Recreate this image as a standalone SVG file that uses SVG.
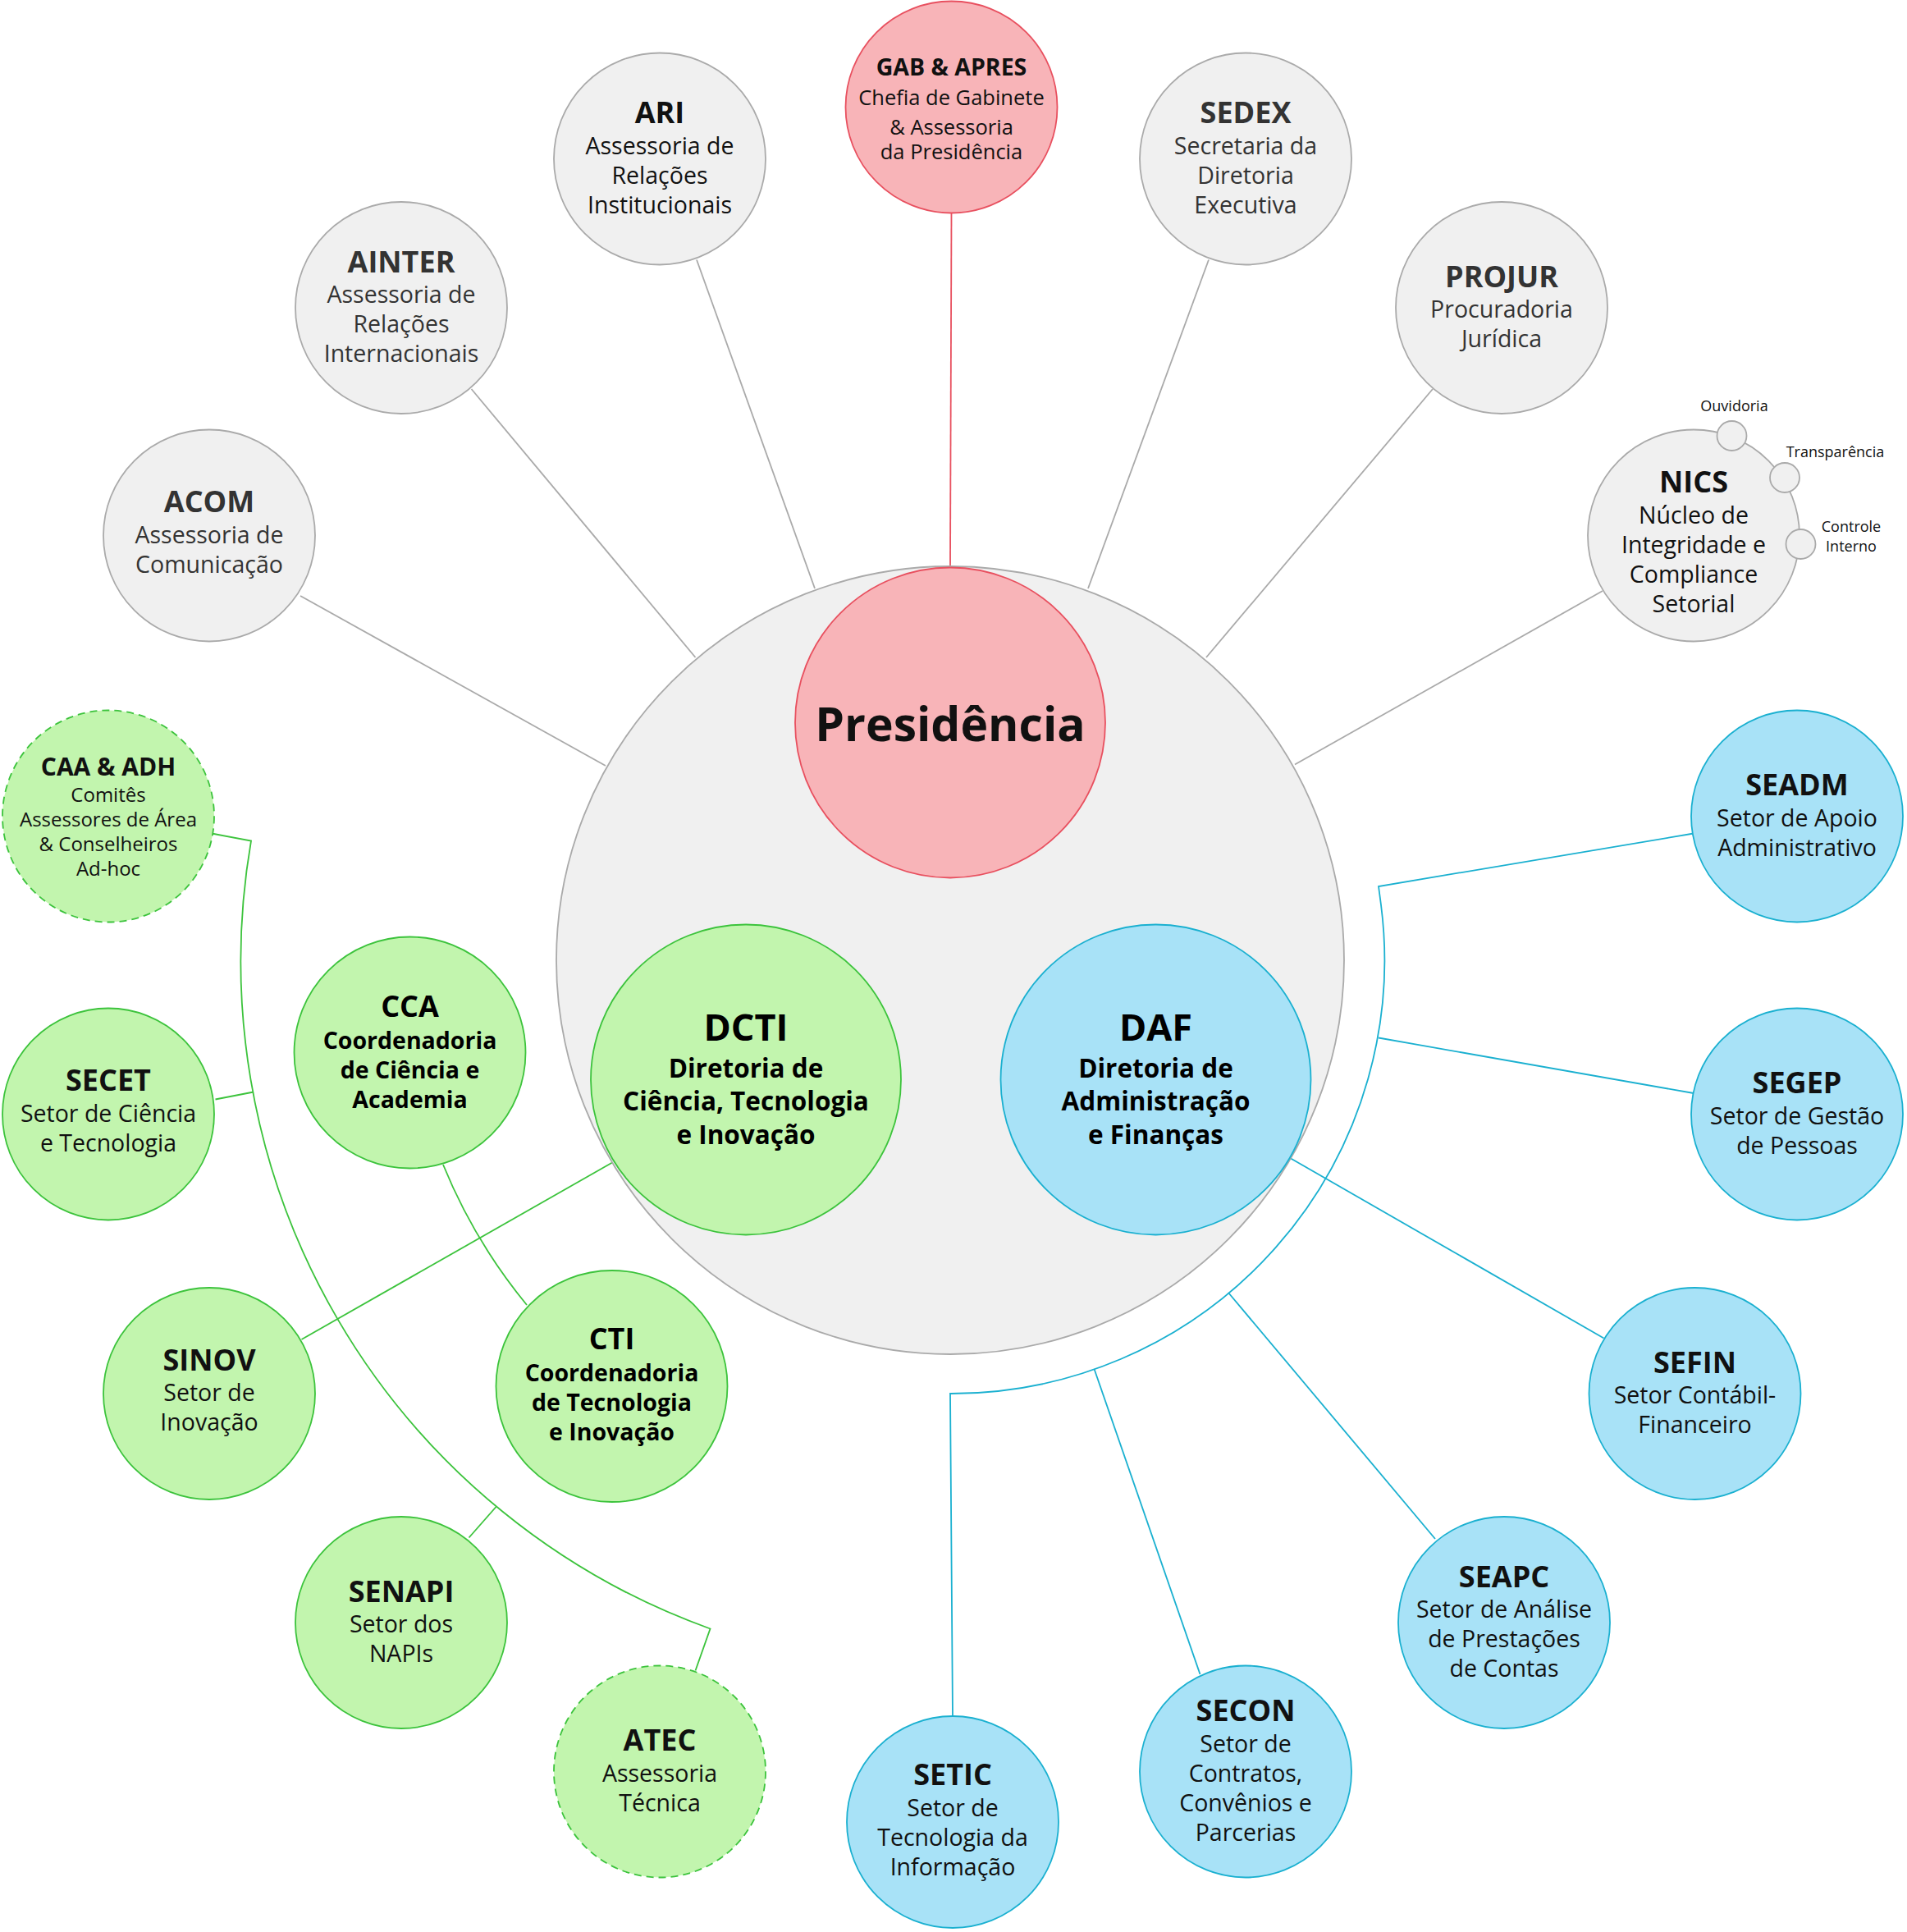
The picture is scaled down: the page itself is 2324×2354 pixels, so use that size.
<svg xmlns="http://www.w3.org/2000/svg" width="2324" height="2354" viewBox="0 0 2324 2354">
<style>
text{font-family:"Open Sans","Liberation Sans",sans-serif;text-anchor:middle;fill:#333}
.t{font-weight:bold;font-size:24px}
.b{font-size:19px}
.bb{font-size:19px;font-weight:bold;fill:#000}
.gray{fill:#f0f0f0;stroke:#aaa;stroke-width:1.2}
.green{fill:#c2f5ae;stroke:#3cc33c;stroke-width:1.2}
.blue{fill:#a8e2f7;stroke:#1ab0d0;stroke-width:1.2}
.red{fill:#f8b4b8;stroke:#e8505f;stroke-width:1.2}
.dash{stroke-dasharray:6 4}
.lg{stroke:#aaa;fill:none;stroke-width:1.2}
.lgr{stroke:#3cc33c;fill:none;stroke-width:1.2}
.lb{stroke:#1ab0d0;fill:none;stroke-width:1.2}
.lr{stroke:#e8505f;fill:none;stroke-width:1.2}
</style>
<rect width="2324" height="2354" fill="#fff"/>
<g transform="scale(1.5)">
<g id="connectors">
<line class="lr" x1="773" y1="173" x2="772" y2="460"/>
<line class="lg" x1="566" y1="211" x2="662" y2="478"/>
<line class="lg" x1="982" y1="211" x2="884" y2="478"/>
<line class="lg" x1="383" y1="316" x2="565" y2="534"/>
<line class="lg" x1="1164" y1="316" x2="980" y2="534"/>
<line class="lg" x1="244" y1="484" x2="492" y2="622"/>
<line class="lg" x1="1302" y1="480" x2="1052" y2="621"/>
<path class="lb" d="M1376,677 L1120,720 L1122,735 A352 352 0 0 1 772,1132 L774,1395"/>
<line class="lb" x1="1120" y1="843" x2="1376" y2="888"/>
<line class="lb" x1="1047" y1="940" x2="1303" y2="1087"/>
<line class="lb" x1="998" y1="1050" x2="1166" y2="1250"/>
<line class="lb" x1="889" y1="1112" x2="975" y2="1360"/>
<path class="lgr" d="M172,677 L204,683 A576 576 0 0 0 577,1323 L565,1357"/>
<line class="lgr" x1="175" y1="893" x2="206" y2="887"/>
<line class="lgr" x1="245" y1="1088" x2="498" y2="944"/>
<path class="lgr" d="M360,946 A444 444 0 0 0 428,1060"/>
<line class="lgr" x1="381" y1="1249" x2="403" y2="1224"/>
</g>
<g id="main"><circle class="gray" cx="772" cy="780" r="320"/></g>
<g id="pres"><circle class="red" cx="772" cy="587" r="126"/><text x="772" y="602" style="font-weight:bold;font-size:38px;fill:#111">Presidência</text></g>
<g id="dcti"><circle class="green" cx="606" cy="877" r="126"/><text class="t" x="606" y="845" style="font-size:30px;fill:#000">DCTI</text><text class="bb" x="606" y="875" style="font-size:21px">Diretoria de</text><text class="bb" x="606" y="902" style="font-size:21px">Ciência, Tecnologia</text><text class="bb" x="606" y="929" style="font-size:21px">e Inovação</text></g>
<g id="daf"><circle class="blue" cx="939" cy="877" r="126"/><text class="t" x="939" y="845" style="font-size:30px;fill:#000">DAF</text><text class="bb" x="939" y="875" style="font-size:21px">Diretoria de</text><text class="bb" x="939" y="902" style="font-size:21px">Administração</text><text class="bb" x="939" y="929" style="font-size:21px">e Finanças</text></g>
<g id="gab"><circle class="red" cx="773" cy="87" r="86"/><text x="773" y="61" style="font-weight:bold;font-size:19px;fill:#111">GAB &amp; APRES</text><text class="b" x="773" y="85" style="font-size:17px;fill:#111">Chefia de Gabinete</text><text class="b" x="773" y="109" style="font-size:17px;fill:#111">&amp; Assessoria</text><text class="b" x="773" y="129" style="font-size:17px;fill:#111">da Presidência</text></g>
<g id="ari"><circle class="gray" cx="536" cy="129" r="86"/><text class="t" x="536" y="100" style="fill:#111">ARI</text><text class="b" x="536" y="125" style="fill:#111">Assessoria de</text><text class="b" x="536" y="149" style="fill:#111">Relações</text><text class="b" x="536" y="173" style="fill:#111">Institucionais</text></g>
<g id="sedex"><circle class="gray" cx="1012" cy="129" r="86"/><text class="t" x="1012" y="100">SEDEX</text><text class="b" x="1012" y="125">Secretaria da</text><text class="b" x="1012" y="149">Diretoria</text><text class="b" x="1012" y="173">Executiva</text></g>
<g id="ainter"><circle class="gray" cx="326" cy="250" r="86"/><text class="t" x="326" y="221">AINTER</text><text class="b" x="326" y="246">Assessoria de</text><text class="b" x="326" y="270">Relações</text><text class="b" x="326" y="294">Internacionais</text></g>
<g id="projur"><circle class="gray" cx="1220" cy="250" r="86"/><text class="t" x="1220" y="233">PROJUR</text><text class="b" x="1220" y="258">Procuradoria</text><text class="b" x="1220" y="282">Jurídica</text></g>
<g id="acom"><circle class="gray" cx="170" cy="435" r="86"/><text class="t" x="170" y="416">ACOM</text><text class="b" x="170" y="441">Assessoria de</text><text class="b" x="170" y="465">Comunicação</text></g>
<g id="nics"><circle class="gray" cx="1376" cy="435" r="86"/><text class="t" x="1376" y="400" style="fill:#111">NICS</text><text class="b" x="1376" y="425" style="fill:#111">Núcleo de</text><text class="b" x="1376" y="449" style="fill:#111">Integridade e</text><text class="b" x="1376" y="473" style="fill:#111">Compliance</text><text class="b" x="1376" y="497" style="fill:#111">Setorial</text></g>
<g id="ouvidoria"><circle class="gray" cx="1407" cy="354" r="12"/><text x="1409" y="334" style="font-size:12px;fill:#111">Ouvidoria</text></g>
<g id="transparencia"><circle class="gray" cx="1450" cy="388" r="12"/><text x="1491" y="371" style="font-size:12px;fill:#111">Transparência</text></g>
<g id="controle"><circle class="gray" cx="1463" cy="442" r="12"/><text x="1504" y="432" style="font-size:12px;fill:#111">Controle</text><text x="1504" y="448" style="font-size:12px;fill:#111">Interno</text></g>
<g id="seadm"><circle class="blue" cx="1460" cy="663" r="86"/><text class="t" x="1460" y="646" style="fill:#111">SEADM</text><text class="b" x="1460" y="671" style="fill:#111">Setor de Apoio</text><text class="b" x="1460" y="695" style="fill:#111">Administrativo</text></g>
<g id="segep"><circle class="blue" cx="1460" cy="905" r="86"/><text class="t" x="1460" y="888" style="fill:#111">SEGEP</text><text class="b" x="1460" y="913" style="fill:#111">Setor de Gestão</text><text class="b" x="1460" y="937" style="fill:#111">de Pessoas</text></g>
<g id="sefin"><circle class="blue" cx="1377" cy="1132" r="86"/><text class="t" x="1377" y="1115" style="fill:#111">SEFIN</text><text class="b" x="1377" y="1140" style="fill:#111">Setor Contábil-</text><text class="b" x="1377" y="1164" style="fill:#111">Financeiro</text></g>
<g id="seapc"><circle class="blue" cx="1222" cy="1318" r="86"/><text class="t" x="1222" y="1289" style="fill:#111">SEAPC</text><text class="b" x="1222" y="1314" style="fill:#111">Setor de Análise</text><text class="b" x="1222" y="1338" style="fill:#111">de Prestações</text><text class="b" x="1222" y="1362" style="fill:#111">de Contas</text></g>
<g id="secon"><circle class="blue" cx="1012" cy="1439" r="86"/><text class="t" x="1012" y="1398" style="fill:#111">SECON</text><text class="b" x="1012" y="1423" style="fill:#111">Setor de</text><text class="b" x="1012" y="1447" style="fill:#111">Contratos,</text><text class="b" x="1012" y="1471" style="fill:#111">Convênios e</text><text class="b" x="1012" y="1495" style="fill:#111">Parcerias</text></g>
<g id="setic"><circle class="blue" cx="774" cy="1480" r="86"/><text class="t" x="774" y="1450" style="fill:#111">SETIC</text><text class="b" x="774" y="1475" style="fill:#111">Setor de</text><text class="b" x="774" y="1499" style="fill:#111">Tecnologia da</text><text class="b" x="774" y="1523" style="fill:#111">Informação</text></g>
<g id="atec"><circle class="green dash" cx="536" cy="1439" r="86"/><text class="t" x="536" y="1422" style="fill:#111">ATEC</text><text class="b" x="536" y="1447" style="fill:#111">Assessoria</text><text class="b" x="536" y="1471" style="fill:#111">Técnica</text></g>
<g id="senapi"><circle class="green" cx="326" cy="1318" r="86"/><text class="t" x="326" y="1301" style="fill:#111">SENAPI</text><text class="b" x="326" y="1326" style="fill:#111">Setor dos</text><text class="b" x="326" y="1350" style="fill:#111">NAPIs</text></g>
<g id="cti"><circle class="green" cx="497" cy="1126" r="94"/><text class="t" x="497" y="1096" style="fill:#000">CTI</text><text class="bb" x="497" y="1122">Coordenadoria</text><text class="bb" x="497" y="1146">de Tecnologia</text><text class="bb" x="497" y="1170">e Inovação</text></g>
<g id="sinov"><circle class="green" cx="170" cy="1132" r="86"/><text class="t" x="170" y="1113" style="fill:#111">SINOV</text><text class="b" x="170" y="1138" style="fill:#111">Setor de</text><text class="b" x="170" y="1162" style="fill:#111">Inovação</text></g>
<g id="cca"><circle class="green" cx="333" cy="855" r="94"/><text class="t" x="333" y="826" style="fill:#000">CCA</text><text class="bb" x="333" y="852">Coordenadoria</text><text class="bb" x="333" y="876">de Ciência e</text><text class="bb" x="333" y="900">Academia</text></g>
<g id="secet"><circle class="green" cx="88" cy="905" r="86"/><text class="t" x="88" y="886" style="fill:#111">SECET</text><text class="b" x="88" y="911" style="fill:#111">Setor de Ciência</text><text class="b" x="88" y="935" style="fill:#111">e Tecnologia</text></g>
<g id="caa"><circle class="green dash" cx="88" cy="663" r="86"/><text x="88" y="630" style="font-weight:bold;font-size:20px;fill:#111">CAA &amp; ADH</text><text x="88" y="651" style="font-size:16px;fill:#111">Comitês</text><text x="88" y="671" style="font-size:16px;fill:#111">Assessores de Área</text><text x="88" y="691" style="font-size:16px;fill:#111">&amp; Conselheiros</text><text x="88" y="711" style="font-size:16px;fill:#111">Ad-hoc</text></g>
</g>
</svg>
